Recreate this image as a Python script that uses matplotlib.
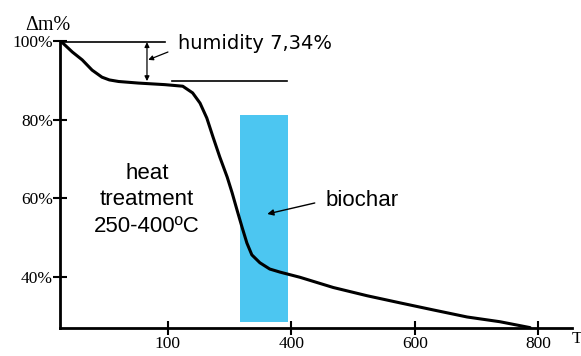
import matplotlib
matplotlib.use("Agg")
import matplotlib.pyplot as plt
from matplotlib.patches import Rectangle

# ---- data ----
temp = [28, 45, 61, 77, 93, 105, 120, 152, 195, 224, 240, 252, 263, 273, 284,
        296, 304, 312, 320, 328, 336, 349, 365, 382, 414, 468, 523, 576, 630,
        685, 738, 787]
mass = [99.7, 97.2, 95.2, 92.6, 90.8, 90.1, 89.7, 89.3, 88.9, 88.5, 86.8, 84.2,
        80.4, 75.6, 70.5, 65.4, 61.4, 57.0, 52.7, 48.6, 45.6, 43.6, 42.0, 41.2,
        39.9, 37.3, 35.2, 33.4, 31.6, 29.8, 28.6, 27.1]
x_ticks = [200, 400, 600, 800]
x_tick_labels = ["100", "400", "600", "800"]
y_ticks = [40, 60, 80, 100]
y_tick_labels = ["40%", "60%", "80%", "100%"]
biochar_range = [317, 395]
biochar_mass = [28.4, 81.3]
humidity_top = 99.7
humidity_bottom = 89.8

fig = plt.figure(figsize=(5.81, 3.56), dpi=100)
ax = fig.add_axes([60 / 581, 28 / 356, 512 / 581, (328 - 41) / 356])
ax.set_xlim(25, 855)
ax.set_ylim(27.0, 100)

for s in ["top", "right"]:
    ax.spines[s].set_visible(False)
for s in ["left", "bottom"]:
    ax.spines[s].set_linewidth(2.0)
    ax.spines[s].set_color("black")

# biochar band
ax.add_patch(Rectangle((biochar_range[0], biochar_mass[0]),
                       biochar_range[1] - biochar_range[0],
                       biochar_mass[1] - biochar_mass[0],
                       facecolor="#4CC6F1", edgecolor="none", zorder=1))

# TG curve
ax.plot(temp, mass, color="black", lw=2.2, zorder=3, solid_capstyle="round",
        solid_joinstyle="round")

# humidity reference lines
ax.plot([28, 195], [humidity_top, humidity_top], color="black", lw=1.2)
ax.plot([207, 393], [humidity_bottom, humidity_bottom], color="black", lw=1.2)
ax.annotate("", xy=(166, humidity_bottom), xytext=(166, humidity_top),
            arrowprops=dict(arrowstyle="<|-|>", color="black", lw=0.9,
                            mutation_scale=7, shrinkA=0, shrinkB=0))
ax.annotate("", xy=(168, 95.2), xytext=(200, 97.2),
            arrowprops=dict(arrowstyle="-|>", color="black", lw=0.9,
                            mutation_scale=7, shrinkA=0, shrinkB=0))

# biochar arrow
ax.annotate("", xy=(361, 56.0), xytext=(438, 58.8),
            arrowprops=dict(arrowstyle="-|>", color="black", lw=1.0,
                            mutation_scale=9, shrinkA=0, shrinkB=0))

# texts
ax.text(216, 99.3, "humidity 7,34%", fontsize=14, family="DejaVu Sans",
        ha="left", va="center")
ax.text(166, 59.6, "heat\ntreatment\n250-400ºC", fontsize=16,
        family="Liberation Sans", ha="center", va="center", linespacing=1.35)
ax.text(455, 59.4, "biochar", fontsize=16, family="Liberation Sans",
        ha="left", va="center")

# ticks
ax.set_xticks(x_ticks)
ax.set_xticklabels(x_tick_labels, family="Liberation Serif", fontsize=12.5)
ax.set_yticks(y_ticks)
ax.set_yticklabels(y_tick_labels, family="Liberation Serif", fontsize=12.5)
ax.tick_params(axis="both", direction="inout", length=10, width=1.5)
ax.tick_params(axis="y", pad=0)
ax.tick_params(axis="x", pad=1)

fig.text(48 / 581, 1 - 25 / 356, "Δm%", family="Liberation Serif",
         fontsize=14.5, ha="center", va="center")
fig.text(577 / 581, 1 - 339 / 356, "T", family="Liberation Serif",
         fontsize=12.5, ha="center", va="center")

fig.savefig("out.png", dpi=100)
